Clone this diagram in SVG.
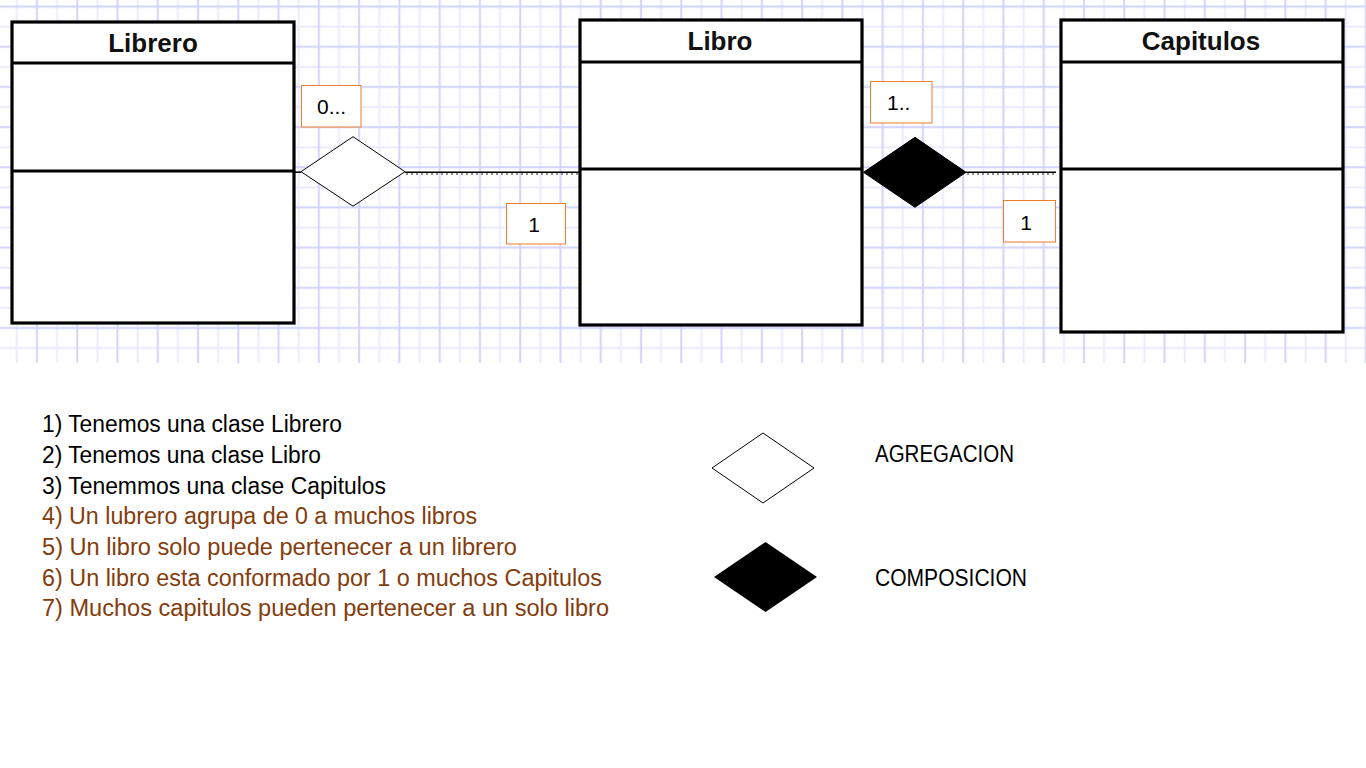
<svg xmlns="http://www.w3.org/2000/svg" width="1366" height="768" viewBox="0 0 1366 768">
<style>
.box{fill:#fff;stroke:#000;stroke-width:3.2}
.div{stroke:#000;stroke-width:3.2}
.title{font-family:"Liberation Sans",Arial,sans-serif;font-weight:bold;font-size:26px;fill:#111;text-anchor:middle}
.mult{fill:#fff;stroke:#ED7D31;stroke-width:1}
.mt{font-family:"Liberation Sans",Arial,sans-serif;font-size:21px;fill:#000}
.txt{font-family:"Liberation Sans",Arial,sans-serif;font-size:23px;fill:#000}
.brown{fill:#843C0C}
.conn{stroke:#000;stroke-width:1.6;fill:none}
.dot{stroke:#222;stroke-width:1;stroke-dasharray:2 3;fill:none}
</style>
<defs>
<pattern id="grid" patternUnits="userSpaceOnUse" x="27" y="-3.4" width="40.27" height="40.17">
<rect x="29.1" y="0" width="2" height="40.17" fill="#ebebfd"/>
<rect x="0" y="29.1" width="40.27" height="2" fill="#ebebfd"/>
<rect x="9" y="0" width="2" height="40.17" fill="#d3d3fc"/>
<rect x="0" y="9" width="40.27" height="2" fill="#d3d3fc"/>
</pattern>
</defs>
<rect width="1366" height="768" fill="#fff"/>
<rect x="0" y="0" width="1366" height="363" fill="url(#grid)"/>

<g id="connectors">
<line class="conn" x1="293" y1="172.2" x2="301" y2="172.2"/>
<line class="conn" x1="405" y1="172.2" x2="580" y2="172.2"/>
<line class="dot" x1="406" y1="174" x2="578" y2="174"/>
<line class="conn" x1="966" y1="172.2" x2="1056" y2="172.2"/>
<line class="dot" x1="967" y1="174" x2="1056" y2="174"/>
<polygon id="agg-diamond" points="301,171.7 353,136.7 405,171.7 353,206.2" fill="#fff" stroke="#000" stroke-width="1"/>
<polygon id="comp-diamond" points="863.5,172.3 915,137.3 966,172.3 915,207.3" fill="#000" stroke="#000" stroke-width="1"/>
</g>

<g id="librero">
<rect class="box" x="12" y="22" width="282" height="301"/>
<line class="div" x1="12" y1="63" x2="294" y2="63"/>
<line class="div" x1="12" y1="171" x2="294" y2="171"/>
<text class="title" x="153" y="52">Librero</text>
</g>

<g id="libro">
<rect class="box" x="580" y="20" width="282" height="305"/>
<line class="div" x1="580" y1="62" x2="862" y2="62"/>
<line class="div" x1="580" y1="169" x2="862" y2="169"/>
<text class="title" x="720" y="50">Libro</text>
</g>

<g id="capitulos">
<rect class="box" x="1061" y="20" width="282" height="312"/>
<line class="div" x1="1061" y1="62" x2="1343" y2="62"/>
<line class="div" x1="1061" y1="169" x2="1343" y2="169"/>
<text class="title" x="1201" y="50">Capitulos</text>
</g>

<g id="mult-0">
<rect class="mult" x="301.5" y="85.5" width="59.5" height="41.5"/>
<text class="mt" x="317" y="114">0...</text>
</g>
<g id="mult-1a">
<rect class="mult" x="506.5" y="203.5" width="59" height="40.5"/>
<text class="mt" x="534" y="232" text-anchor="middle">1</text>
</g>
<g id="mult-1b">
<rect class="mult" x="870.5" y="81.5" width="61.5" height="41.5"/>
<text class="mt" x="887" y="110">1..</text>
</g>
<g id="mult-1c">
<rect class="mult" x="1003.5" y="200.5" width="52" height="41.5"/>
<text class="mt" x="1026" y="230" text-anchor="middle">1</text>
</g>

<g id="notes">
<text class="txt" x="42" y="432" textLength="300" lengthAdjust="spacingAndGlyphs">1) Tenemos una clase Librero</text>
<text class="txt" x="42" y="463" textLength="279" lengthAdjust="spacingAndGlyphs">2) Tenemos una clase Libro</text>
<text class="txt" x="42" y="493.5" textLength="344" lengthAdjust="spacingAndGlyphs">3) Tenemmos una clase Capitulos</text>
<text class="txt brown" x="42" y="524" textLength="435" lengthAdjust="spacingAndGlyphs">4) Un lubrero agrupa de 0 a muchos libros</text>
<text class="txt brown" x="42" y="555" textLength="475" lengthAdjust="spacingAndGlyphs">5) Un libro solo puede pertenecer a un librero</text>
<text class="txt brown" x="42" y="585.5" textLength="560" lengthAdjust="spacingAndGlyphs">6) Un libro esta conformado por 1 o muchos Capitulos</text>
<text class="txt brown" x="42" y="616" textLength="567" lengthAdjust="spacingAndGlyphs">7) Muchos capitulos pueden pertenecer a un solo libro</text>
</g>

<g id="legend-agregacion">
<polygon points="712,468 763,433 814,468 763,503" fill="#fff" stroke="#000" stroke-width="1"/>
<text class="txt" x="875" y="462" textLength="139" lengthAdjust="spacingAndGlyphs">AGREGACION</text>
</g>
<g id="legend-composicion">
<polygon points="714,577 765.5,542 817,577 765.5,612" fill="#000"/>
<text class="txt" x="875" y="586" textLength="152" lengthAdjust="spacingAndGlyphs">COMPOSICION</text>
</g>
</svg>
